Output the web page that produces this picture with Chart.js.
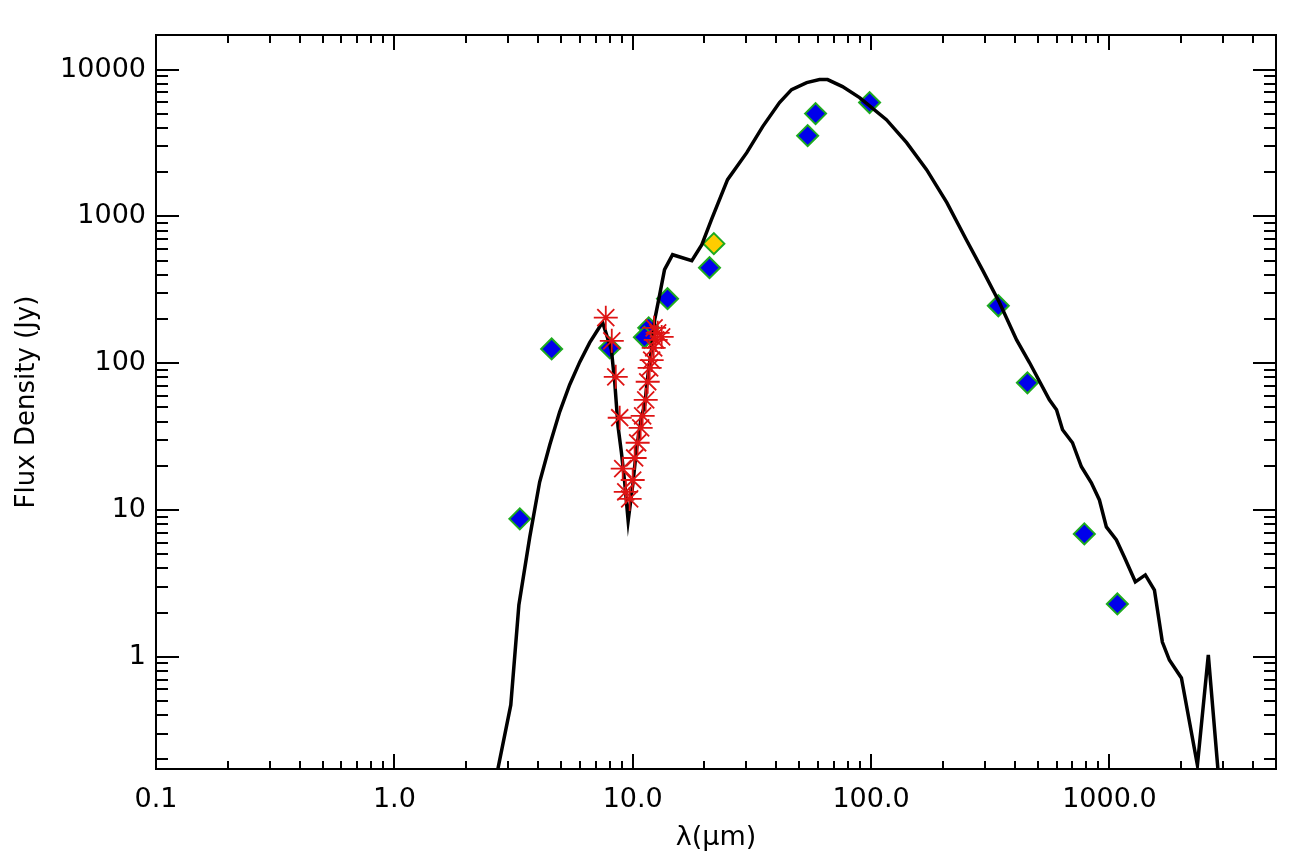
<!DOCTYPE html>
<html lang="en">
    <head>
        <meta charset="utf-8">
        <title>Spectral Energy Distribution</title>
        <script src="https://cdn.jsdelivr.net/npm/chart.js@4.4.0/dist/chart.umd.min.js"></script>
        <style>
            body { margin: 0; background: #fff; overflow: hidden; }
            canvas { display: block; }
        </style>
    </head>
    <body>
        <canvas id="chart" width="1297" height="862"></canvas>

       <script>
        // model SED (black line)
        const modelX = [2.61, 3.08, 3.33, 3.70, 4.07, 4.49, 4.94, 5.44, 6.00, 6.60, 7.27, 7.48,
                        8.14, 8.41, 8.68, 8.97, 9.26, 9.57,
                        10.03, 10.36, 10.88, 11.23, 11.56, 11.98, 12.37, 12.98, 13.6, 14.7, 17.7, 19.5, 21.4,
                        25.0, 30.1, 35.1, 41.3, 46.4, 53.7, 60.8, 65.7, 75.9, 89.5, 116, 141, 171, 208, 251,
                        293, 346, 408, 462, 560, 600, 636, 700, 763, 840, 908, 971, 1070, 1155, 1285, 1415,
                        1545, 1668, 1785, 2005, 2340, 2600, 2950];
        const modelY = [0.124, 0.47, 2.25, 6.56, 15.5, 27.8, 46.6, 71.3, 102, 138, 177, 189,
                        123, 73.5, 37, 24.5, 15.3, 8.43,
                        15.3, 25.7, 43.3, 52, 80.7, 123, 198, 293, 434, 548, 499, 641, 950,
                        1778, 2717, 4088, 5960, 7306, 8154, 8550, 8550, 7656, 6440, 4560, 3178, 2080, 1240, 693,
                        434, 258, 144, 101, 56.3, 48.1, 35.2, 28.7, 19.7, 15.3, 11.7, 7.67, 6.25, 4.79, 3.24, 3.61,
                        2.85, 1.26, 0.95, 0.717, 0.183, 1.03, 0.09];

        // photometry (blue diamonds)
        const photX = [3.36, 4.57, 8.01, 11.67, 11.2, 14.0, 21.0, 54.2, 58.5, 98.6, 342, 453, 785, 1080];
        const photY = [8.7, 125, 127, 174, 150, 275, 447, 3548, 5012, 5960, 246, 73.5, 6.87, 2.29];

        // extra point (yellow diamond)
        const extraX = [21.9];
        const extraY = [652];

        // mid-IR spectrum (red asterisks)
        const specX = [7.71, 8.17, 8.49, 8.82, 9.08, 9.35, 9.71, 10.0, 10.19, 10.49, 10.80, 11.01,
                       11.34, 11.56, 11.78, 12.01, 12.25, 12.49, 12.30, 12.73, 13.23];
        const specY = [204, 142, 80.7, 42.5, 19.1, 13.3, 11.9, 16, 22.6, 28.7, 36.3, 43.8,
                       56.3, 74.7, 93, 105, 127, 144, 174, 161, 151];

        // axes
        const xTickValues = [0.1, 1, 10, 100, 1000];
        const xTickLabels = ['0.1', '1.0', '10.0', '100.0', '1000.0'];
        const yTickValues = [1, 10, 100, 1000, 10000];
        const yTickLabels = ['1', '10', '100', '1000', '10000'];
        const xMinor = [0.2, 0.3, 0.4, 0.5, 0.6, 0.7, 0.8, 0.9, 2, 3, 4, 5, 6, 7, 8, 9,
                        20, 30, 40, 50, 60, 70, 80, 90, 200, 300, 400, 500, 600, 700, 800, 900,
                        2000, 3000, 4000];
        const yMinor = [0.2, 0.3, 0.4, 0.5, 0.6, 0.7, 0.8, 0.9, 2, 3, 4, 5, 6, 7, 8, 9,
                        20, 30, 40, 50, 60, 70, 80, 90, 200, 300, 400, 500, 600, 700, 800, 900,
                        2000, 3000, 4000, 5000, 6000, 7000, 8000, 9000];

        function toPoints(xs, ys) {
            return xs.map((v, i) => ({x: v, y: ys[i]}));
        }

        const FONT = {family: 'DejaVu Sans', size: 27};

        // IDL style frame with inward ticks on all four sides
        const frameTicks = {
            id: 'frameTicks',
            afterDraw(chart) {
                const {ctx, chartArea: a, scales: {x, y}} = chart;
                ctx.save();
                ctx.strokeStyle = '#000';
                ctx.lineWidth = 2;
                ctx.strokeRect(a.left, a.top, a.right - a.left, a.bottom - a.top);
                ctx.beginPath();
                const xTick = (v, len) => {
                    const px = Math.round(x.getPixelForValue(v));
                    ctx.moveTo(px, a.bottom); ctx.lineTo(px, a.bottom - len);
                    ctx.moveTo(px, a.top); ctx.lineTo(px, a.top + len);
                };
                const yTick = (v, len) => {
                    const py = Math.round(y.getPixelForValue(v));
                    ctx.moveTo(a.left, py); ctx.lineTo(a.left + len, py);
                    ctx.moveTo(a.right, py); ctx.lineTo(a.right - len, py);
                };
                xTickValues.forEach(v => xTick(v, 15));
                xMinor.forEach(v => xTick(v, 8));
                yTickValues.forEach(v => yTick(v, 23));
                yMinor.forEach(v => yTick(v, 12));
                ctx.stroke();
                ctx.restore();
            }
        };

        new Chart(document.getElementById('chart'), {
            type: 'scatter',
            data: {
                datasets: [
                    {
                        label: 'spectrum',
                        data: toPoints(specX, specY),
                        pointStyle: 'star',
                        pointRadius: 12,
                        borderColor: 'rgb(222, 20, 20)',
                        borderWidth: 1.8
                    },
                    {
                        label: 'model',
                        data: toPoints(modelX, modelY),
                        showLine: true,
                        pointRadius: 0,
                        borderColor: '#000',
                        borderWidth: 3.5,
                        tension: 0,
                        clip: 0
                    },
                    {
                        label: 'extra',
                        data: toPoints(extraX, extraY),
                        pointStyle: 'rectRot',
                        pointRadius: 10.5,
                        backgroundColor: 'rgb(255, 204, 0)',
                        borderColor: 'rgb(30, 170, 30)',
                        borderWidth: 2
                    },
                    {
                        label: 'photometry',
                        data: toPoints(photX, photY),
                        pointStyle: 'rectRot',
                        pointRadius: 10.5,
                        backgroundColor: 'rgb(0, 0, 235)',
                        borderColor: 'rgb(30, 170, 30)',
                        borderWidth: 2
                    }
                ]
            },
            options: {
                responsive: false,
                animation: false,
                events: [],
                layout: { padding: {top: 35, right: 21, left: 0, bottom: 0} },
                plugins: {
                    legend: { display: false },
                    tooltip: { enabled: false }
                },
                scales: {
                    x: {
                        type: 'logarithmic',
                        min: 0.1,
                        max: 5000,
                        grid: { display: false, drawTicks: false },
                        border: { display: false },
                        afterBuildTicks: s => { s.ticks = xTickValues.map(v => ({value: v})); },
                        afterFit: s => { s.height = 93; },
                        ticks: {
                            autoSkip: false,
                            maxRotation: 0,
                            padding: 15,
                            color: '#000',
                            font: FONT,
                            callback: (v, i) => xTickLabels[i]
                        },
                        title: {
                            display: true,
                            text: 'λ(μm)',
                            color: '#000',
                            font: FONT,
                            padding: {top: 0, bottom: 8}
                        }
                    },
                    y: {
                        type: 'logarithmic',
                        min: 0.172,
                        max: 17200,
                        grid: { display: false, drawTicks: false },
                        border: { display: false },
                        afterBuildTicks: s => { s.ticks = yTickValues.map(v => ({value: v})); },
                        afterFit: s => { s.width = 156; },
                        ticks: {
                            autoSkip: false,
                            padding: 10,
                            color: '#000',
                            font: FONT,
                            callback: (v, i) => yTickLabels[i]
                        },
                        title: {
                            display: true,
                            text: 'Flux Density (Jy)',
                            color: '#000',
                            font: {family: 'DejaVu Sans', size: 26},
                            padding: {top: 12, bottom: 0}
                        }
                    }
                }
            },
            plugins: [frameTicks]
        });
       </script>
    </body>
</html>
